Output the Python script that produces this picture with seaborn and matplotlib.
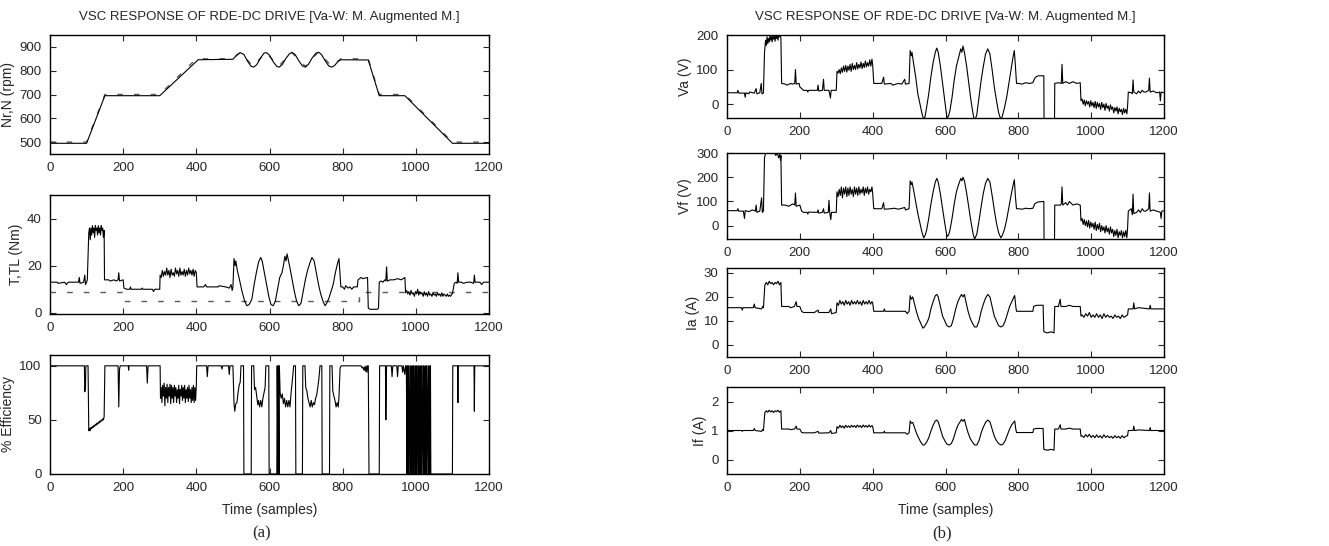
"""VSC response of RDE-DC drive: speed/torque/efficiency (a) and voltages/currents (b)."""

import matplotlib.pyplot as plt
import numpy as np
import pandas as pd
import seaborn as sns

# ---- data: (sample, value) knots ----------------------------------------------------------
SPEED = [(0, 495), (100, 495), (150, 695), (300, 695), (405, 846), (500, 848),
         (510, 865), (520, 876), (530, 868), (540, 840), (550, 818), (557, 815), (565, 825),
         (575, 852), (585, 874), (592, 876), (600, 865), (610, 838), (620, 818), (627, 815),
         (635, 826), (645, 852), (655, 872), (662, 876), (670, 868), (680, 842), (690, 820),
         (698, 815), (706, 826), (716, 852), (726, 872), (734, 878), (742, 868), (752, 842),
         (762, 820), (770, 815), (778, 822), (788, 840), (796, 846), (870, 845), (900, 695),
         (970, 695), (1100, 495), (1200, 495)]

SPEED_REF = [(0, 500), (100, 500), (150, 700), (300, 700), (400, 850), (500, 850),
             (520, 878), (555, 818), (590, 878), (625, 818), (660, 878), (698, 818),
             (734, 880), (770, 818), (795, 850), (870, 850), (900, 700), (970, 700),
             (1100, 500), (1200, 500)]

TORQUE = [(0, 13), (20, 13), (22, 12.5), (40, 13), (45, 12), (50, 13), (78, 13), (80, 15),
          (82, 12.5), (92, 13), (95, 16), (97, 12), (100, 13), (102, 14),
          (106, 34), (108, 36), (110, 31), (112, 36), (114, 33), (116, 37), (118, 34), (120, 36),
          (122, 32), (124, 37), (126, 35), (128, 36), (130, 33), (132, 37), (134, 34), (136, 36),
          (138, 33), (140, 37), (142, 35), (144, 36), (146, 32), (148, 35), (149, 14),
          (160, 14), (165, 13.5), (175, 14), (180, 13.5), (186, 14), (188, 17), (190, 13.5),
          (200, 14), (202, 10.5), (210, 10), (218, 10), (220, 11), (222, 10), (250, 10),
          (252, 10.5), (254, 10), (280, 10), (283, 9), (286, 10), (300, 10),
          (301, 16), (304, 15), (307, 18), (310, 15.5), (313, 17.5), (316, 16), (319, 19),
          (322, 16), (325, 18), (328, 15), (331, 18.5), (334, 16), (337, 17), (340, 15.5),
          (343, 19), (346, 16.5), (349, 18), (352, 15.5), (355, 19), (358, 16), (361, 17.5),
          (364, 16), (367, 18.5), (370, 15.5), (373, 18), (376, 16), (379, 19), (382, 16.5),
          (385, 18), (388, 16), (391, 18.5), (394, 15.5), (397, 18), (400, 17), (402, 11),
          (420, 11), (425, 12), (428, 11), (460, 11), (462, 11.5), (480, 11), (490, 10.5),
          (495, 12), (498, 9.5), (500, 11),
          (503, 23), (506, 20), (508, 22), (512, 18), (518, 14), (525, 9), (532, 5), (538, 3),
          (544, 3.5), (548, 4.5), (552, 6), (558, 12), (564, 17), (570, 21.5), (576, 23.5),
          (580, 22), (586, 17), (592, 12), (598, 7), (604, 3.5), (610, 3), (616, 5), (622, 10),
          (628, 15), (634, 17), (638, 20), (642, 24), (645, 22), (648, 25), (652, 22),
          (656, 19), (662, 14), (668, 9), (674, 5), (680, 3), (686, 4), (692, 9), (698, 14),
          (704, 18), (710, 21), (716, 23.5), (722, 22), (728, 17), (734, 12), (740, 8),
          (746, 5), (752, 3), (756, 4), (762, 6), (768, 9), (774, 12), (780, 17), (786, 21),
          (790, 23), (792, 18), (795, 11),
          (800, 11), (805, 10), (808, 11.5), (815, 10.5), (820, 11), (825, 10), (830, 11),
          (840, 11), (842, 14), (850, 15), (855, 14.5), (868, 15), (870, 2), (875, 1.5),
          (885, 1.5), (895, 1.5), (898, 2), (900, 13), (905, 13.5), (910, 13), (915, 14),
          (918, 13.5), (920, 19.5), (922, 13.5), (930, 14), (940, 14), (950, 14.5), (960, 14),
          (970, 15), (972, 8.5),
          (975, 9.5), (978, 8), (981, 9), (984, 7.5), (987, 9.5), (990, 8), (993, 8.5),
          (996, 7), (999, 9), (1002, 8), (1005, 10), (1008, 7.5), (1011, 9), (1014, 8),
          (1017, 8.5), (1020, 7), (1023, 9), (1026, 7.5), (1029, 8.5), (1032, 7), (1035, 9),
          (1038, 7.5), (1041, 8), (1044, 7), (1047, 8.5), (1050, 7.5), (1053, 8), (1056, 7),
          (1059, 8.5), (1062, 7.5), (1065, 8), (1068, 7), (1071, 8.5), (1074, 7), (1077, 8),
          (1080, 7.5), (1083, 7), (1086, 8), (1089, 7), (1092, 7.5), (1095, 7), (1098, 8),
          (1100, 8), (1105, 12.5), (1110, 13), (1113, 12.5), (1115, 17), (1117, 13),
          (1125, 13), (1130, 12.5), (1140, 13), (1150, 13), (1158, 12.5), (1160, 16),
          (1162, 13), (1175, 13), (1180, 12), (1185, 13), (1200, 13)]

LOAD_TORQUE = [(0, 9), (200, 9), (200, 5), (845, 5), (845, 9), (1200, 9)]

EFFICIENCY = [(0, 100), (94, 100), (95, 76), (97, 80), (98, 100), (104, 100), (106, 40),
              (108, 42), (110, 40), (112, 43), (114, 42), (116, 44), (118, 43), (120, 45),
              (122, 44), (124, 46), (126, 45), (128, 47), (130, 46), (132, 48), (134, 47),
              (136, 49), (138, 48), (140, 50), (142, 49), (144, 51), (146, 50), (148, 53),
              (150, 100), (186, 100), (188, 62), (190, 97), (192, 100), (214, 100), (215, 96),
              (216, 100), (264, 100), (266, 84), (268, 100), (301, 100), (302, 70),
              (304, 80), (306, 66), (308, 82), (310, 72), (312, 84), (314, 63), (316, 80),
              (318, 70), (320, 83), (322, 66), (324, 80), (326, 72), (328, 83), (330, 65),
              (332, 82), (334, 70), (336, 80), (338, 66), (340, 82), (342, 72), (344, 80),
              (346, 66), (348, 78), (350, 70), (352, 82), (354, 65), (356, 78), (358, 72),
              (360, 82), (362, 68), (364, 80), (366, 70), (368, 82), (370, 66), (372, 78),
              (374, 70), (376, 80), (378, 67), (380, 82), (382, 70), (384, 78), (386, 66),
              (388, 80), (390, 68), (392, 82), (394, 66), (396, 80), (398, 68), (400, 82),
              (401, 100), (428, 100), (430, 90), (432, 100), (468, 100), (470, 97), (472, 100),
              (488, 100), (490, 92), (492, 100), (500, 100), (503, 65), (505, 58), (508, 65),
              (511, 66), (514, 75), (517, 82), (520, 85), (522, 100), (529, 100), (530, 0),
              (550, 0), (551, 100), (557, 100), (559, 78), (562, 80), (565, 72), (568, 64),
              (570, 68), (573, 62), (576, 68), (579, 62), (582, 70), (585, 75), (588, 80),
              (590, 100), (598, 100), (599, 0), (620, 0), (621, 100), (623, 0), (624, 100),
              (626, 0), (627, 100), (629, 75), (632, 70), (635, 74), (638, 65), (641, 70),
              (644, 62), (647, 68), (650, 62), (653, 68), (656, 62), (659, 75), (662, 85),
              (664, 92), (666, 100), (671, 100), (672, 0), (690, 0), (691, 100), (697, 100),
              (699, 80), (702, 77), (705, 70), (708, 66), (711, 62), (714, 68), (717, 62),
              (720, 66), (723, 64), (726, 70), (729, 73), (732, 80), (735, 88), (738, 100),
              (743, 100), (744, 0), (764, 0), (765, 100), (771, 100), (773, 77), (776, 72),
              (779, 68), (782, 62), (785, 66), (788, 62), (790, 72), (793, 98), (796, 100),
              (850, 100), (853, 98), (855, 99), (858, 96), (860, 99), (862, 95), (864, 100),
              (866, 94), (868, 100), (870, 100), (872, 0), (900, 0), (901, 100), (917, 100),
              (918, 50), (920, 100), (933, 100), (935, 90), (937, 100), (948, 100), (950, 90),
              (952, 100), (962, 100), (964, 94), (966, 100), (970, 92), (972, 100),
              (974, 100), (976, 0), (977, 100), (979, 0), (980, 100), (982, 0), (984, 100),
              (986, 0), (987, 100), (989, 0), (991, 100), (993, 0), (994, 100), (996, 0),
              (998, 100), (1000, 0), (1001, 100), (1003, 0), (1005, 100), (1007, 0), (1008, 100),
              (1010, 0), (1012, 100), (1014, 0), (1015, 100), (1017, 0), (1019, 100), (1021, 0),
              (1022, 100), (1024, 0), (1026, 100), (1028, 0), (1029, 100), (1031, 0), (1033, 100),
              (1035, 0), (1036, 100), (1038, 0), (1040, 100), (1041, 0), (1100, 0), (1101, 100),
              (1114, 100), (1115, 66), (1116, 100), (1159, 100), (1160, 58), (1161, 100),
              (1200, 100)]

VA = [(0, 33), (28, 33), (30, 40), (32, 32), (48, 32), (50, 20), (52, 33), (60, 30), (62, 35),
      (75, 32), (80, 45), (82, 30), (90, 33), (94, 60), (96, 30), (100, 32), (103, 150),
      (106, 185), (108, 170), (110, 195), (112, 175), (114, 190), (116, 180), (118, 200),
      (120, 185), (122, 195), (124, 180), (126, 200), (128, 188), (130, 196), (132, 182),
      (134, 200), (136, 190), (138, 200), (140, 185), (142, 200), (144, 195), (146, 200),
      (148, 190), (150, 60), (160, 58), (165, 55), (175, 60), (180, 58), (186, 60), (188, 100),
      (190, 58), (198, 60), (200, 50), (205, 45), (210, 40), (220, 40), (222, 35), (224, 40),
      (248, 40), (250, 55), (252, 38), (262, 40), (265, 72), (267, 40), (280, 40), (284, 18),
      (286, 40), (300, 40),
      (302, 95), (305, 90), (308, 100), (311, 88), (314, 105), (317, 92), (320, 110), (323, 95),
      (326, 112), (329, 93), (332, 110), (335, 98), (338, 115), (341, 95), (344, 118),
      (347, 100), (350, 112), (353, 100), (356, 120), (359, 102), (362, 115), (365, 105),
      (368, 122), (371, 103), (374, 118), (377, 106), (380, 125), (383, 108), (386, 120),
      (389, 110), (392, 128), (395, 110), (398, 130), (400, 115), (403, 60),
      (425, 60), (430, 78), (432, 58), (450, 60), (455, 55), (470, 60), (480, 58), (488, 72),
      (490, 58), (500, 60),
      (503, 155), (506, 140), (508, 150), (512, 120), (518, 80), (524, 30), (530, 0),
      (535, -25), (540, -45), (544, -35), (548, -10), (554, 30), (560, 80), (566, 120),
      (572, 150), (576, 162), (580, 150), (586, 110), (592, 60), (598, 10), (604, -40),
      (608, -35), (612, -20), (618, 20), (624, 70), (630, 110), (636, 135), (642, 160),
      (645, 150), (648, 168), (652, 150), (658, 110), (664, 60), (670, 10), (676, -30),
      (680, -50), (686, -30), (692, 20), (698, 70), (704, 110), (710, 145), (716, 160),
      (722, 145), (728, 100), (734, 50), (740, 10), (746, -25), (752, -45), (756, -35),
      (762, -10), (768, 20), (774, 60), (780, 100), (786, 140), (789, 155), (792, 110),
      (795, 60),
      (800, 60), (810, 58), (820, 62), (830, 60), (840, 62), (845, 75), (850, 80), (855, 82),
      (870, 82), (871, -120), (899, -120), (900, 60), (910, 62), (918, 60), (920, 115),
      (922, 60), (930, 65), (940, 60), (950, 65), (960, 60), (970, 62), (972, 10),
      (975, 15), (978, 0), (981, 12), (984, -5), (987, 10), (990, 0), (993, 8), (996, -8),
      (999, 10), (1002, -5), (1005, 5), (1008, -10), (1011, 8), (1014, -12), (1017, 5),
      (1020, -8), (1023, 2), (1026, -15), (1029, 5), (1032, -10), (1035, 0), (1038, -18),
      (1041, 2), (1044, -12), (1047, -5), (1050, -20), (1053, -2), (1056, -15), (1059, -8),
      (1062, -25), (1065, -10), (1068, -20), (1071, -8), (1074, -28), (1077, -12),
      (1080, -22), (1083, -15), (1086, -30), (1089, -12), (1092, -25), (1095, -15),
      (1098, -28),
      (1100, -5), (1102, 35), (1110, 33), (1113, 30), (1115, 70), (1117, 35), (1125, 30),
      (1130, 38), (1135, 32), (1140, 40), (1145, 35), (1150, 35), (1158, 40), (1160, 75),
      (1162, 35), (1170, 38), (1180, 33), (1188, 35), (1190, 10), (1192, 35), (1200, 33)]

VF = [(0, 62), (28, 62), (30, 70), (32, 60), (45, 60), (48, 30), (50, 62), (60, 58), (70, 65),
      (78, 60), (80, 85), (82, 55), (90, 60), (95, 115), (97, 55), (100, 60), (103, 280),
      (106, 300), (130, 300), (134, 290), (138, 300), (142, 280), (145, 295), (147, 270),
      (148, 290), (150, 85), (160, 85), (170, 80), (180, 90), (186, 85), (188, 135), (190, 80),
      (200, 85), (205, 60), (210, 55), (220, 55), (222, 48), (224, 56), (248, 55), (250, 65),
      (252, 52), (262, 55), (265, 70), (267, 52), (278, 55), (280, 105), (282, 55), (285, 25),
      (287, 55), (300, 55),
      (302, 140), (305, 120), (308, 150), (311, 125), (314, 160), (317, 115), (320, 155),
      (323, 130), (326, 160), (329, 120), (332, 155), (335, 125), (338, 160), (341, 130),
      (344, 150), (347, 120), (350, 160), (353, 130), (356, 155), (359, 125), (362, 160),
      (365, 130), (368, 150), (371, 135), (374, 160), (377, 125), (380, 155), (383, 135),
      (386, 160), (389, 130), (392, 150), (395, 140), (398, 160), (400, 135), (403, 70),
      (425, 70), (430, 95), (432, 68), (450, 70), (460, 72), (470, 68), (480, 72), (488, 75),
      (490, 65), (500, 70),
      (503, 185), (506, 170), (508, 180), (512, 150), (518, 100), (524, 50), (530, 10),
      (535, -25), (540, -50), (544, -40), (548, -20), (554, 30), (560, 90), (566, 140),
      (572, 180), (576, 195), (580, 180), (586, 130), (592, 70), (598, 10), (604, -45),
      (608, -40), (612, -20), (618, 30), (624, 90), (630, 140), (636, 170), (642, 195),
      (645, 185), (648, 200), (652, 185), (658, 135), (664, 75), (670, 15), (676, -35),
      (680, -55), (686, -35), (692, 20), (698, 80), (704, 135), (710, 175), (716, 195),
      (722, 180), (728, 125), (734, 65), (740, 10), (746, -30), (752, -50), (756, -40),
      (762, -15), (768, 25), (774, 75), (780, 125), (786, 170), (789, 190), (792, 120),
      (795, 70),
      (800, 70), (810, 68), (820, 72), (830, 70), (840, 72), (845, 90), (850, 95), (855, 98),
      (870, 100), (871, -150), (899, -150), (900, 85), (915, 85), (918, 90), (920, 160),
      (922, 85), (930, 95), (935, 85), (940, 100), (950, 85), (960, 90), (970, 85), (972, 20),
      (975, 30), (978, 5), (981, 25), (984, 0), (987, 20), (990, -5), (993, 22), (996, -10),
      (999, 15), (1002, -5), (1005, 10), (1008, -15), (1011, 15), (1014, -20), (1017, 5),
      (1020, -15), (1023, 10), (1026, -25), (1029, 0), (1032, -20), (1035, -5), (1038, -30),
      (1041, 0), (1044, -25), (1047, -10), (1050, -35), (1053, -5), (1056, -30), (1059, -15),
      (1062, -45), (1065, -20), (1068, -40), (1071, -15), (1074, -50), (1077, -25),
      (1080, -40), (1083, -20), (1086, -50), (1089, -25), (1092, -45), (1095, -20),
      (1098, -50),
      (1100, -10), (1102, 60), (1110, 70), (1113, 45), (1115, 130), (1117, 50), (1125, 55),
      (1130, 65), (1135, 55), (1140, 70), (1145, 60), (1150, 60), (1158, 70), (1160, 135),
      (1162, 60), (1170, 65), (1180, 60), (1190, 55), (1192, 30), (1194, 60), (1200, 62)]

IA = [(0, 15.5), (40, 15.5), (42, 14.5), (44, 15.5), (72, 15.5), (75, 17), (77, 15.5),
      (95, 15), (98, 16), (100, 15.5), (104, 25), (108, 26), (112, 25), (116, 26.5),
      (120, 25.5), (124, 26), (128, 25), (132, 26), (136, 25.5), (140, 26.5), (144, 25),
      (148, 26), (150, 16), (170, 16), (175, 15.5), (185, 16), (190, 18), (192, 16), (200, 16),
      (205, 14), (210, 13.5), (240, 13.5), (250, 14.5), (252, 13.5), (280, 13.5), (285, 15),
      (287, 13), (300, 13.5),
      (302, 17.5), (306, 16.5), (310, 18.5), (314, 17), (318, 18), (322, 16.5), (326, 18.5),
      (330, 17), (334, 18), (338, 16.5), (342, 18.5), (346, 17), (350, 18), (354, 17),
      (358, 18.5), (362, 17), (366, 18), (370, 16.5), (374, 18.5), (378, 17), (382, 18),
      (386, 17), (390, 18.5), (394, 17), (398, 18), (400, 17.5), (403, 14),
      (430, 14), (432, 15), (434, 14), (490, 14), (495, 13), (500, 14),
      (503, 20.5), (506, 19), (510, 20), (515, 17), (520, 14), (526, 11), (532, 9), (538, 7),
      (542, 7.5), (548, 9), (554, 11), (560, 15), (566, 18), (572, 20.5), (576, 21),
      (580, 20), (586, 16), (592, 12), (598, 10), (604, 8), (610, 7.5), (616, 8), (622, 11),
      (628, 15), (634, 18), (640, 20), (644, 21), (648, 20), (652, 21), (656, 18), (662, 14),
      (668, 11), (674, 9), (680, 7.5), (686, 7.5), (692, 10), (698, 14), (704, 17),
      (710, 19.5), (716, 21), (722, 20), (728, 16), (734, 12), (740, 10), (746, 8),
      (752, 7.5), (758, 8), (764, 10), (770, 13), (776, 16), (782, 18), (788, 20),
      (790, 20.5), (793, 16), (795, 14),
      (800, 14), (840, 14), (842, 16), (850, 16.5), (868, 16.5), (870, 5.5), (880, 5),
      (890, 5.5), (898, 5), (900, 16), (910, 16), (915, 19), (917, 16), (930, 16),
      (940, 16.5), (950, 16), (970, 16), (972, 12),
      (975, 12.5), (980, 11.5), (985, 13), (990, 12), (995, 13.5), (1000, 11.5),
      (1005, 12.5), (1010, 11.5), (1015, 13), (1020, 11.5), (1025, 12.5), (1030, 11),
      (1035, 13), (1040, 11.5), (1045, 12.5), (1050, 11.5), (1055, 12), (1060, 11),
      (1065, 12.5), (1070, 11.5), (1075, 12), (1080, 11), (1085, 12.5), (1090, 11.5),
      (1095, 12), (1100, 12.5), (1102, 15), (1115, 15), (1117, 17.5), (1119, 15),
      (1130, 15.5), (1160, 15), (1162, 16.5), (1164, 15), (1200, 15)]

IF = [(0, 1.0), (40, 1.0), (42, 0.97), (44, 1.0), (72, 1.0), (75, 1.07), (77, 1.0),
      (95, 0.97), (98, 1.04), (100, 1.0), (104, 1.62), (108, 1.68), (112, 1.63), (116, 1.7),
      (120, 1.64), (124, 1.68), (128, 1.62), (132, 1.68), (136, 1.65), (140, 1.7),
      (144, 1.63), (148, 1.68), (150, 1.05), (170, 1.05), (175, 1.03), (185, 1.05),
      (190, 1.15), (192, 1.05), (200, 1.05), (205, 0.93), (210, 0.92), (240, 0.92),
      (250, 0.97), (252, 0.91), (280, 0.92), (285, 1.0), (287, 0.9), (300, 0.92),
      (302, 1.13), (306, 1.08), (310, 1.18), (314, 1.1), (318, 1.16), (322, 1.08),
      (326, 1.18), (330, 1.11), (334, 1.16), (338, 1.1), (342, 1.18), (346, 1.12),
      (350, 1.17), (354, 1.1), (358, 1.19), (362, 1.12), (366, 1.17), (370, 1.1),
      (374, 1.19), (378, 1.12), (382, 1.17), (386, 1.11), (390, 1.19), (394, 1.12),
      (398, 1.17), (400, 1.14), (403, 0.92),
      (430, 0.92), (432, 0.98), (434, 0.92), (490, 0.92), (495, 0.87), (500, 0.92),
      (503, 1.33), (506, 1.25), (510, 1.28), (515, 1.1), (520, 0.92), (526, 0.75),
      (532, 0.6), (538, 0.5), (542, 0.5), (548, 0.6), (554, 0.75), (560, 0.98), (566, 1.18),
      (572, 1.33), (576, 1.36), (580, 1.3), (586, 1.05), (592, 0.8), (598, 0.65),
      (604, 0.53), (610, 0.5), (616, 0.55), (622, 0.72), (628, 0.98), (634, 1.18),
      (640, 1.3), (644, 1.38), (648, 1.32), (652, 1.38), (656, 1.18), (662, 0.92),
      (668, 0.72), (674, 0.6), (680, 0.5), (686, 0.5), (692, 0.65), (698, 0.92), (704, 1.12),
      (710, 1.28), (716, 1.36), (722, 1.3), (728, 1.05), (734, 0.8), (740, 0.65),
      (746, 0.55), (752, 0.5), (758, 0.53), (764, 0.65), (770, 0.85), (776, 1.05),
      (782, 1.2), (788, 1.3), (790, 1.33), (793, 1.05), (795, 0.93),
      (800, 0.93), (840, 0.93), (842, 1.05), (850, 1.07), (868, 1.07), (870, 0.35),
      (880, 0.32), (890, 0.35), (898, 0.32), (900, 1.05), (910, 1.05), (915, 1.2),
      (917, 1.05), (930, 1.05), (940, 1.08), (950, 1.05), (970, 1.05), (972, 0.8),
      (975, 0.82), (980, 0.76), (985, 0.86), (990, 0.78), (995, 0.87), (1000, 0.76),
      (1005, 0.83), (1010, 0.75), (1015, 0.85), (1020, 0.76), (1025, 0.82), (1030, 0.74),
      (1035, 0.85), (1040, 0.76), (1045, 0.82), (1050, 0.75), (1055, 0.8), (1060, 0.73),
      (1065, 0.82), (1070, 0.75), (1075, 0.8), (1080, 0.73), (1085, 0.82), (1090, 0.75),
      (1095, 0.8), (1100, 0.82), (1102, 1.0), (1115, 1.0), (1117, 1.15), (1119, 1.0),
      (1130, 1.02), (1160, 1.0), (1162, 1.1), (1164, 1.0), (1200, 1.0)]

TITLE = "VSC RESPONSE OF RDE-DC DRIVE [Va-W: M. Augmented M.]"
X_TICKS = [0, 200, 400, 600, 800, 1000, 1200]

W, H = 1329, 546


def rect(left, top, right, bottom):
    """axes rect from pixel box"""
    return [left / W, 1 - bottom / H, (right - left) / W, (bottom - top) / H]


def trace(ax, knots, **kw):
    df = pd.DataFrame(knots, columns=["t", "v"])
    sns.lineplot(data=df, x="t", y="v", sort=False, estimator=None, ax=ax, **kw)


def style(ax, ylim, yticks, ylabel, xlabel=None):
    ax.set_xlim(0, 1200)
    ax.set_ylim(*ylim)
    ax.set_xticks(X_TICKS)
    ax.set_yticks(yticks)
    ax.set_ylabel(ylabel, fontsize=10, labelpad=3)
    ax.set_xlabel(xlabel if xlabel else "", fontsize=10, labelpad=6)
    ax.tick_params(direction="in", top=True, right=True, length=4, width=0.8,
                   labelsize=9.5, pad=6)
    for s in ax.spines.values():
        s.set_linewidth(1.0)
        s.set_color("black")


def main() -> None:
    sns.set_style("ticks")
    plt.rcParams["font.family"] = ["Liberation Sans", "DejaVu Sans"]

    fig = plt.figure(figsize=(W / 100, H / 100), dpi=100)
    solid = dict(color="black", linewidth=0.8)
    dashed = dict(color="0.35", linewidth=1.0, linestyle=(0, (4, 8)))

    # ---- (a) ----
    ax = fig.add_axes(rect(50, 35, 489, 154))
    trace(ax, SPEED_REF, **dashed)
    trace(ax, SPEED, **solid)
    style(ax, (450, 950), [500, 600, 700, 800, 900], "Nr,N (rpm)")
    ax.set_title(TITLE, fontsize=9.5, pad=11)

    ax = fig.add_axes(rect(50, 195, 489, 314))
    trace(ax, LOAD_TORQUE, **dashed)
    trace(ax, TORQUE, **solid)
    style(ax, (-0.5, 50), [0, 20, 40], "T,TL (Nm)")

    ax = fig.add_axes(rect(50, 355, 489, 474))
    trace(ax, EFFICIENCY, **solid)
    style(ax, (0, 110), [0, 50, 100], "% Efficiency", "Time (samples)")
    fig.text(262 / W, 1 - 533 / H, "(a)", ha="center", va="center",
             fontsize=12, family="Liberation Serif")

    # ---- (b) ----
    ax = fig.add_axes(rect(727, 35, 1164, 118))
    trace(ax, VA, **solid)
    style(ax, (-40, 200), [0, 100, 200], "Va (V)")
    ax.set_title(TITLE, fontsize=9.5, pad=11)

    ax = fig.add_axes(rect(727, 153, 1164, 239))
    trace(ax, VF, **solid)
    style(ax, (-55, 300), [0, 100, 200, 300], "Vf (V)")

    ax = fig.add_axes(rect(727, 268, 1164, 357))
    trace(ax, IA, **solid)
    style(ax, (-5, 32), [0, 10, 20, 30], "Ia (A)")

    ax = fig.add_axes(rect(727, 387, 1164, 474))
    trace(ax, IF, **solid)
    style(ax, (-0.5, 2.5), [0, 1, 2], "If (A)", "Time (samples)")
    fig.text(942 / W, 1 - 533 / H, "(b)", ha="center", va="center",
             fontsize=12, family="Liberation Serif")

    fig.savefig("out.png", dpi=100, facecolor="white")


if __name__ == "__main__":
    main()
